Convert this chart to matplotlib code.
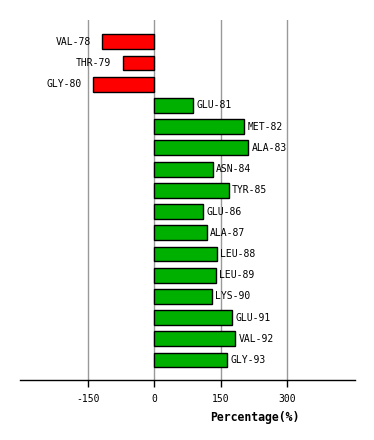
import matplotlib.pyplot as plt
import numpy as np

residues = ['VAL-78', 'THR-79', 'GLY-80', 'GLU-81', 'MET-82', 'ALA-83', 'ASN-84',
            'TYR-85', 'GLU-86', 'ALA-87', 'LEU-88', 'LEU-89', 'LYS-90', 'GLU-91',
            'VAL-92', 'GLY-93']
values = [-118, -72, -138, 87, 202, 213, 132, 168, 110, 118, 141, 139, 130, 175, 182, 164]
xticks = [-150, 0, 150, 300]

fig = plt.figure(figsize=(3.74, 4.4), dpi=100)
ax = fig.add_axes([20 / 374, 1 - 380 / 440, 335 / 374, 360 / 440])

y = np.arange(len(residues))
colors = ['#ff0000' if v < 0 else '#00b000' for v in values]
ax.barh(y, values, height=0.7, color=colors, edgecolor='black', linewidth=1, zorder=3)

for yi, v, name in zip(y, values, residues):
    if v < 0:
        ax.text(v - 26, yi, name, ha='right', va='center', fontsize=7,
                family='DejaVu Sans Mono')
    else:
        ax.text(v + 8, yi, name, ha='left', va='center', fontsize=7,
                family='DejaVu Sans Mono')

ax.set_xlim(-304, 454)
ax.set_ylim(len(residues) - 1 + 0.94, -1.03)
ax.set_xticks(xticks)
ax.set_xticklabels([str(t) for t in xticks], family='DejaVu Sans Mono', fontsize=7)
ax.set_yticks([])
ax.grid(axis='x', color='#999999', linewidth=1, zorder=0)
for s in ['top', 'left', 'right']:
    ax.spines[s].set_visible(False)
ax.spines['bottom'].set_linewidth(1)
ax.tick_params(axis='x', length=5, width=1, pad=5)

ax.set_xlabel('Percentage(%)', family='DejaVu Sans Mono', fontsize=8.3, fontweight='bold')
ax.xaxis.set_label_coords(0.70, -0.085)

plt.savefig('out.png', dpi=100)
plt.close()
